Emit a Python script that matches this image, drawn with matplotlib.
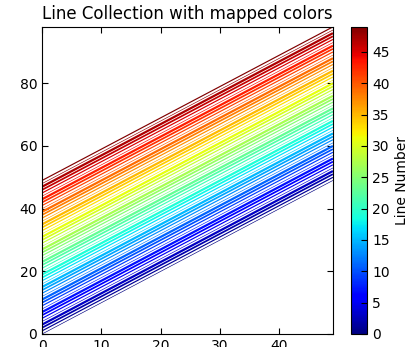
import matplotlib
matplotlib.use('Agg')
import matplotlib.pyplot as plt
import numpy as np
from matplotlib.collections import LineCollection

# x range of every line and the line numbers (offset = line number)
x_ends = [0, 49]
line_numbers = [0, 1, 2, 3, 4, 5, 6, 7, 8, 9,
                10, 11, 12, 13, 14, 15, 16, 17, 18, 19,
                20, 21, 22, 23, 24, 25, 26, 27, 28, 29,
                30, 31, 32, 33, 34, 35, 36, 37, 38, 39,
                40, 41, 42, 43, 44, 45, 46, 47, 48, 49]
x_ticks = [0, 10, 20, 30, 40]
y_ticks = [0, 20, 40, 60, 80]
cb_ticks = [0, 5, 10, 15, 20, 25, 30, 35, 40, 45]

plt.rcParams['font.family'] = 'DejaVu Sans'

fig = plt.figure(figsize=(4.05, 3.47), dpi=100)
ax = fig.add_axes([0.104, 0.0375, 0.718, 0.885])
cax = fig.add_axes([0.867, 0.0375, 0.04, 0.885])

x = np.array(x_ends)
segs = [np.column_stack([x, x + n]) for n in line_numbers]
lc = LineCollection(segs, linewidths=(0.45, 0.85, 1.25, 1.6), linestyles='solid',
                    cmap='jet')
lc.set_array(np.array(line_numbers))
ax.add_collection(lc)
ax.set_xlim(0, 49)
ax.set_ylim(0, 98)
ax.set_xticks(x_ticks)
ax.set_yticks(y_ticks)
ax.tick_params(direction='in', top=True, right=True, labelsize=10, length=4)
ax.set_title('Line Collection with mapped colors', fontsize=12)

cb = fig.colorbar(lc, cax=cax)
cb.set_ticks(cb_ticks)
cb.ax.tick_params(direction='in', labelsize=10, length=4)
cb.set_label('Line Number', fontsize=10)

fig.savefig('out.png', dpi=100)
